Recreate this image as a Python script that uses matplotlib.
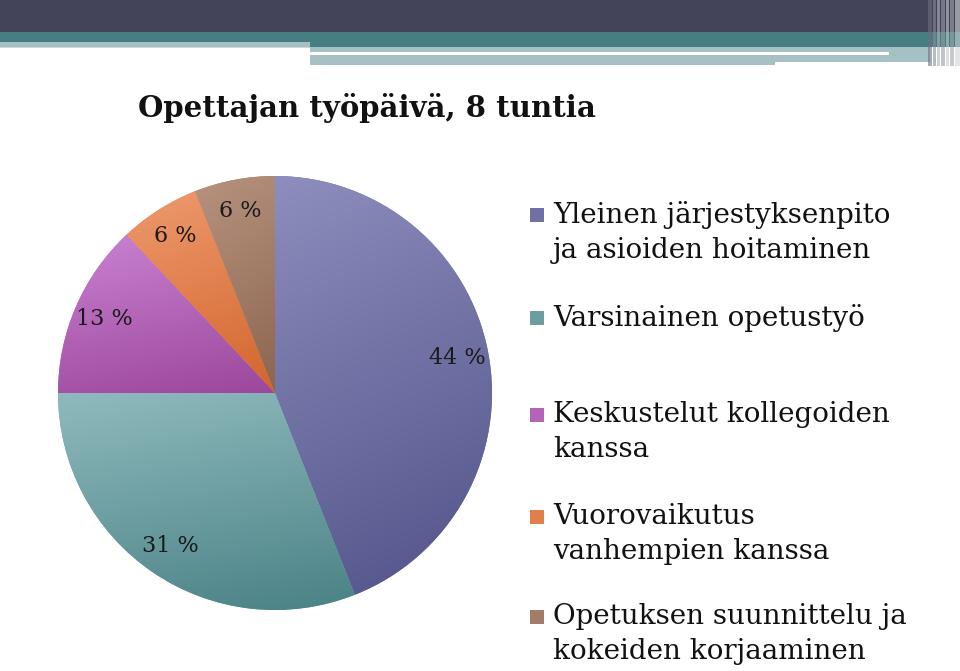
import numpy as np
import matplotlib
matplotlib.use("Agg")
from matplotlib import pyplot as plt, colors
from matplotlib.patches import Rectangle

labels = [
    "Yleinen järjestyksenpito\nja asioiden hoitaminen",
    "Varsinainen opetustyö",
    "Keskustelut kollegoiden\nkanssa",
    "Vuorovaikutus\nvanhempien kanssa",
    "Opetuksen suunnittelu ja\nkokeiden korjaaminen",
]
shares = [44, 31, 13, 6, 6]
light = ["#8d8ebd", "#8fbabd", "#ca82d2", "#ee9a6e", "#b7937f"]
dark = ["#515288", "#4a8286", "#9c479c", "#d3652d", "#8c6550"]
mid = ["#6f70a3", "#6b9ea1", "#b364b7", "#e07f4c", "#a17c68"]

W, H = 960, 671
fig = plt.figure(figsize=(W / 100, H / 100), dpi=100)
fig.patch.set_facecolor("white")


def px(x, y, w, h):
    # rectangle in pixel coords (top-left origin) -> figure fraction
    return (x / W, 1 - (y + h) / H), w / W, h / H


def band(x, y, w, h, c, a=1.0):
    xy, ww, hh = px(x, y, w, h)
    fig.add_artist(Rectangle(xy, ww, hh, transform=fig.transFigure, color=c, alpha=a, lw=0, zorder=1))


# slide header
band(0, 0, W, 32, "#434459")
band(0, 32, W, 10, "#467e82")
band(0, 42, 310, 5, "#a6c1c4")
band(0, 47, 310, 1, "#c9d6d8")
band(310, 42, 650, 5, "#467e82")
band(310, 47, 620, 15, "#a6c1c4")
band(310, 52, 579, 3, "#ffffff")
band(310, 62, 465, 3, "#a6c1c4")
for x0, ww, c in [(928, 4, "#6e7080"), (933, 3, "#8a8c98"), (937, 3, "#b0b3bb"), (941, 4, "#9a9ca6"),
                  (946, 3, "#c5c8cc"), (950, 4, "#a3a6ae"), (955, 5, "#d0d2d6")]:
    band(x0, 0, ww, 66, c, 0.6)

fig.text(138 / W, 1 - 108 / H, "Opettajan työpäivä, 8 tuntia", fontsize=21,
         fontweight="bold", family="DejaVu Serif", va="center", ha="left", color="#111111")

# pie
xy, ww, hh = px(58, 176, 434, 434)
ax = fig.add_axes([xy[0], xy[1], ww, hh])
wedges, texts, autotexts = ax.pie(
    shares, colors=mid, startangle=90, counterclock=False,
    autopct=lambda p: f"{p:.0f} %", pctdistance=0.855,
    textprops=dict(family="DejaVu Serif", fontsize=16, color="#1a1a1a"),
    wedgeprops=dict(linewidth=0),
)
for i, w in enumerate(wedges):
    bb = w.get_path().get_extents()
    yy, xx = np.mgrid[0:1:200j, 0:1:200j]
    t = np.clip(0.8 * (1 - yy) + 0.2 * xx, 0, 1)
    cmap = colors.LinearSegmentedColormap.from_list(f"g{i}", [light[i], dark[i]])
    im = ax.imshow(t, cmap=cmap, origin="lower", extent=(bb.x0, bb.x1, bb.y0, bb.y1),
                   interpolation="bilinear", zorder=1)
    im.set_clip_path(w)
for t in autotexts:
    t.set_zorder(3)
ax.set_xlim(-1, 1)
ax.set_ylim(-1, 1)
ax.set_aspect("equal")
ax.axis("off")

# legend
rows = [215, 318, 415, 517, 617]
for i, (lab, y) in enumerate(zip(labels, rows)):
    band(530, y - 7, 14, 14, mid[i])
    fig.text(553 / W, 1 - (y - 14) / H, lab, fontsize=20, family="DejaVu Serif",
             va="top", ha="left", linespacing=1.38, color="#111111")

fig.savefig("out.png", dpi=100)
